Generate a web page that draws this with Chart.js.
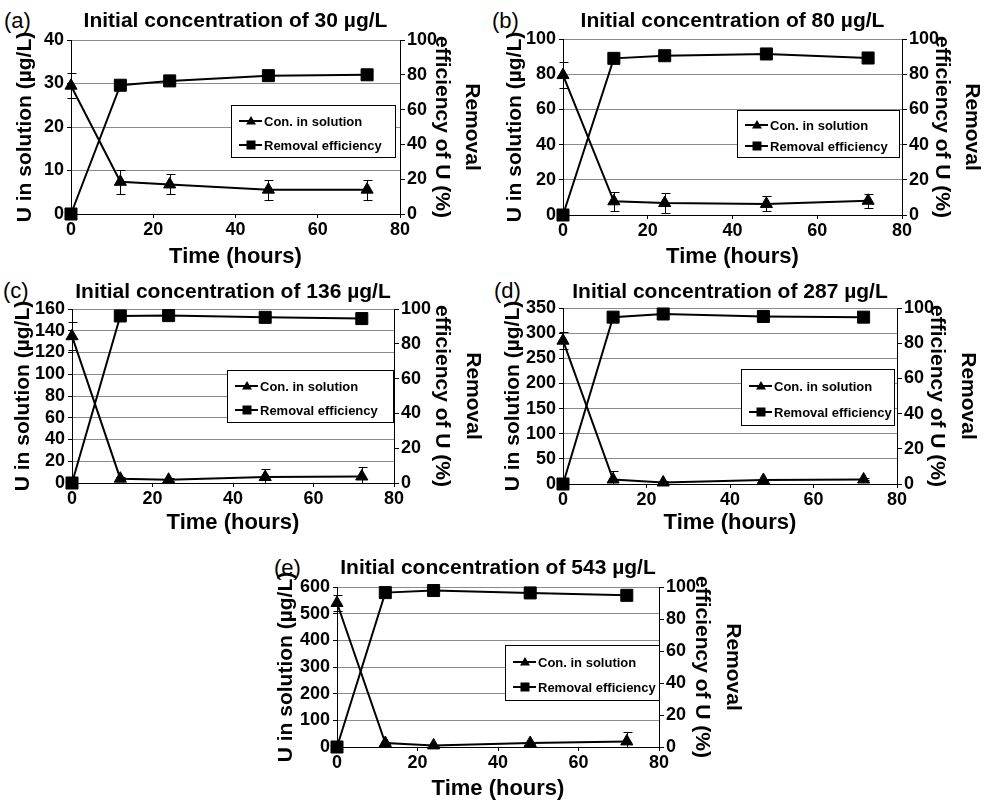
<!DOCTYPE html>
<html>
<head>
<meta charset="utf-8">
<script src="https://cdn.jsdelivr.net/npm/chart.js@4.4.1/dist/chart.umd.min.js"></script>
<style>
  body { margin: 0; background: #fff; width: 987px; height: 808px; position: relative; overflow: hidden;
         font-family: "Liberation Sans", Arial, sans-serif; }
  canvas { position: absolute; }
  .tag { position: absolute; font-size: 22px; line-height: 22px; color: #000; }
</style>
</head>
<body>
<div class="tag" style="left:4px;top:10px">(a)</div>
<div class="tag" style="left:492px;top:10px">(b)</div>
<div class="tag" style="left:3px;top:280px">(c)</div>
<div class="tag" style="left:494px;top:280px">(d)</div>
<div class="tag" style="left:274px;top:557px">(e)</div>
<canvas id="ca" width="490" height="270" style="left:0;top:0"></canvas>
<canvas id="cb" width="497" height="270" style="left:490px;top:0"></canvas>
<canvas id="cc" width="490" height="266" style="left:0;top:270px"></canvas>
<canvas id="cd" width="497" height="266" style="left:490px;top:270px"></canvas>
<canvas id="ce" width="480" height="256" style="left:270px;top:546px"></canvas>
<script>
// sampling times (hours)
const hours = [0, 12, 24, 48, 72];

// U concentration in solution (µg/L), with error bars
const concA = [29.5, 7.4, 6.8, 5.6, 5.6];
const errA  = [2.8, 2.7, 2.3, 2.3, 2.3];
const concB = [79.5, 7.8, 6.8, 6.3, 8.1];
const errB  = [7.2, 5.4, 5.5, 4.3, 4.0];
const concC = [135, 4, 3, 5.5, 6];
const errC  = [13, 1.5, 1.5, 7.5, 8.5];
const concD = [285, 9, 3, 8, 9];
const errD  = [17, 17, 2, 2, 2];
const concE = [540, 15, 6, 15, 21];
const errE  = [29, 3, 3, 3, 35];

// removal efficiency of U (%)
const remA = [0, 74, 76.5, 79.5, 80];
const remB = [0, 89, 90.5, 91.5, 89.2];
const remC = [0, 96, 96.2, 95.2, 94.5];
const remD = [0, 94.8, 96.6, 95.2, 94.8];
const remE = [0, 96.5, 97.8, 96.3, 94.8];

// titles and axis ticks
const titles = ['Initial concentration of 30 µg/L', 'Initial concentration of 80 µg/L',
  'Initial concentration of 136 µg/L', 'Initial concentration of 287 µg/L',
  'Initial concentration of 543 µg/L'];
const leftMax = [40, 100, 160, 350, 600];
const leftStep = [10, 20, 20, 50, 100];
const xMax = 80, xStep = 20;
const rightMax = 100, rightStep = 20;

const conc = [concA, concB, concC, concD, concE];
const errs = [errA, errB, errC, errD, errE];
const rems = [remA, remB, remC, remD, remE];

// layout per panel: axis box sizes, title paddings, legend box (canvas px)
const layouts = [
  { id: 'ca', L: 71, R: 90, B: 56, tt: 8.5, tb: 6.3, lp: 9.8, rp: 2.8, legend: [231, 105, 395, 157] },
  { id: 'cb', L: 73, R: 85, B: 55, tt: 8.5, tb: 5.3, lp: 9.8, rp: 0,   legend: [247, 110, 409, 157] },
  { id: 'cc', L: 72, R: 96, B: 53, tt: 9.5, tb: 4.3, lp: 7.8, rp: 2.3, legend: [227, 100, 393, 152] },
  { id: 'cd', L: 73, R: 90, B: 52, tt: 9.5, tb: 3.3, lp: 7.8, rp: 4.3, legend: [251, 99, 404, 155] },
  { id: 'ce', L: 67, R: 91, B: 55, tt: 9.5, tb: 6.3, lp: 0.8, rp: 2.3, legend: [235, 99, 389, 154] }
];

const FONT = '"Liberation Sans", Arial, sans-serif';
const tickFont = { family: FONT, size: 18, weight: 'bold' };
const titleFont = { family: FONT, size: 21, weight: 'bold', lineHeight: 1.45 };

// vertical error bars on the concentration series
const errorBars = {
  id: 'errorBars',
  beforeDatasetsDraw(chart) {
    const ctx = chart.ctx;
    const xs = chart.scales.x, ys = chart.scales.y;
    const ds = chart.data.datasets[0];
    ctx.save();
    ctx.strokeStyle = '#000';
    ctx.lineWidth = 1;
    ds.data.forEach((p, i) => {
      const e = ds.errors[i];
      if (!e) return;
      const px = Math.round(xs.getPixelForValue(p.x)) + 0.5;
      const top = Math.round(ys.getPixelForValue(p.y + e)) + 0.5;
      const bot = Math.round(ys.getPixelForValue(Math.max(p.y - e, 0))) + 0.5;
      ctx.beginPath();
      ctx.moveTo(px, top); ctx.lineTo(px, bot);
      ctx.moveTo(px - 4, top); ctx.lineTo(px + 5, top);
      ctx.moveTo(px - 4, bot); ctx.lineTo(px + 5, bot);
      ctx.stroke();
    });
    ctx.restore();
  }
};

// boxed legend sitting inside the plot
const makeLegend = (box) => ({
  id: 'boxLegend',
  afterDraw(chart) {
    const ctx = chart.ctx;
    const [x0, y0, x1, y1] = box;
    ctx.save();
    ctx.fillStyle = '#fff';
    ctx.fillRect(x0, y0, x1 - x0, y1 - y0);
    ctx.strokeStyle = '#000';
    ctx.lineWidth = 1;
    ctx.strokeRect(x0 + 0.5, y0 + 0.5, x1 - x0, y1 - y0);
    chart.data.datasets.forEach((ds, i) => {
      const cy = Math.round(y0 + (y1 - y0) * (i === 0 ? 0.31 : 0.76));
      const cx = x0 + 20;
      ctx.strokeStyle = '#000';
      ctx.lineWidth = 2;
      ctx.beginPath();
      ctx.moveTo(x0 + 8, cy); ctx.lineTo(x0 + 31, cy);
      ctx.stroke();
      ctx.fillStyle = '#000';
      ctx.beginPath();
      if (ds.pointStyle === 'triangle') {
        ctx.moveTo(cx, cy - 5); ctx.lineTo(cx + 5, cy + 3.5); ctx.lineTo(cx - 5, cy + 3.5);
      } else {
        ctx.rect(cx - 4.5, cy - 4.5, 9, 9);
      }
      ctx.fill();
      ctx.font = 'bold 13px ' + FONT;
      ctx.textBaseline = 'middle';
      ctx.fillText(ds.label, x0 + 33, cy + 1);
    });
    ctx.restore();
  }
});

layouts.forEach((lay, k) => {
  const pts = (vals) => hours.map((h, i) => ({ x: h, y: vals[i] }));
  new Chart(document.getElementById(lay.id), {
    type: 'line',
    data: {
      datasets: [
        { label: 'Con. in solution', data: pts(conc[k]), errors: errs[k], yAxisID: 'y',
          borderColor: '#000', backgroundColor: '#000', borderWidth: 2, tension: 0,
          pointStyle: 'triangle', pointRadius: 7, pointBorderWidth: 1, clip: false },
        { label: 'Removal efficiency', data: pts(rems[k]), yAxisID: 'y1',
          borderColor: '#000', backgroundColor: '#000', borderWidth: 2, tension: 0,
          pointStyle: 'rect', pointRadius: 8.5, pointBorderWidth: 1, clip: false }
      ]
    },
    options: {
      responsive: false,
      animation: false,
      layout: { padding: 0 },
      plugins: {
        legend: { display: false },
        tooltip: { enabled: false },
        title: { display: true, text: titles[k], color: '#000', fullSize: false,
                 font: { family: FONT, size: 21, weight: 'bold', lineHeight: 1.2 },
                 padding: { top: lay.tt, bottom: lay.tb } }
      },
      scales: {
        x: {
          type: 'linear', min: 0, max: xMax,
          ticks: { stepSize: xStep, color: '#000', font: tickFont, padding: 1, autoSkip: false, maxRotation: 0 },
          grid: { drawOnChartArea: false, tickLength: 4, tickColor: '#000' },
          border: { color: '#000', width: 1 },
          title: { display: true, text: 'Time (hours)', color: '#000',
                   font: { family: FONT, size: 22, weight: 'bold', lineHeight: 1.2 },
                   padding: { top: 0, bottom: 0 } },
          afterFit: (s) => { s.height = lay.B; }
        },
        y: {
          position: 'left', min: 0, max: leftMax[k],
          ticks: { stepSize: leftStep[k], color: '#000', font: tickFont, padding: 3, autoSkip: false },
          grid: { color: '#8a8a8a', tickColor: '#000', tickLength: 4 },
          border: { color: '#000', width: 1 },
          title: { display: true, text: 'U in solution (µg/L)', color: '#000', font: titleFont,
                   padding: { top: lay.lp, bottom: 0 } },
          afterFit: (s) => { s.width = lay.L; }
        },
        y1: {
          position: 'right', min: 0, max: rightMax,
          ticks: { stepSize: rightStep, color: '#000', font: tickFont, padding: 2, autoSkip: false },
          grid: { drawOnChartArea: false, tickColor: '#000', tickLength: 5 },
          border: { color: '#000', width: 1 },
          title: { display: true, text: ['Removal', 'efficiency of U (%)'], color: '#000', font: titleFont,
                   padding: { top: lay.rp, bottom: 0 } },
          afterFit: (s) => { s.width = lay.R; }
        }
      }
    },
    plugins: [errorBars, makeLegend(lay.legend)]
  });
});
</script>
</body>
</html>
